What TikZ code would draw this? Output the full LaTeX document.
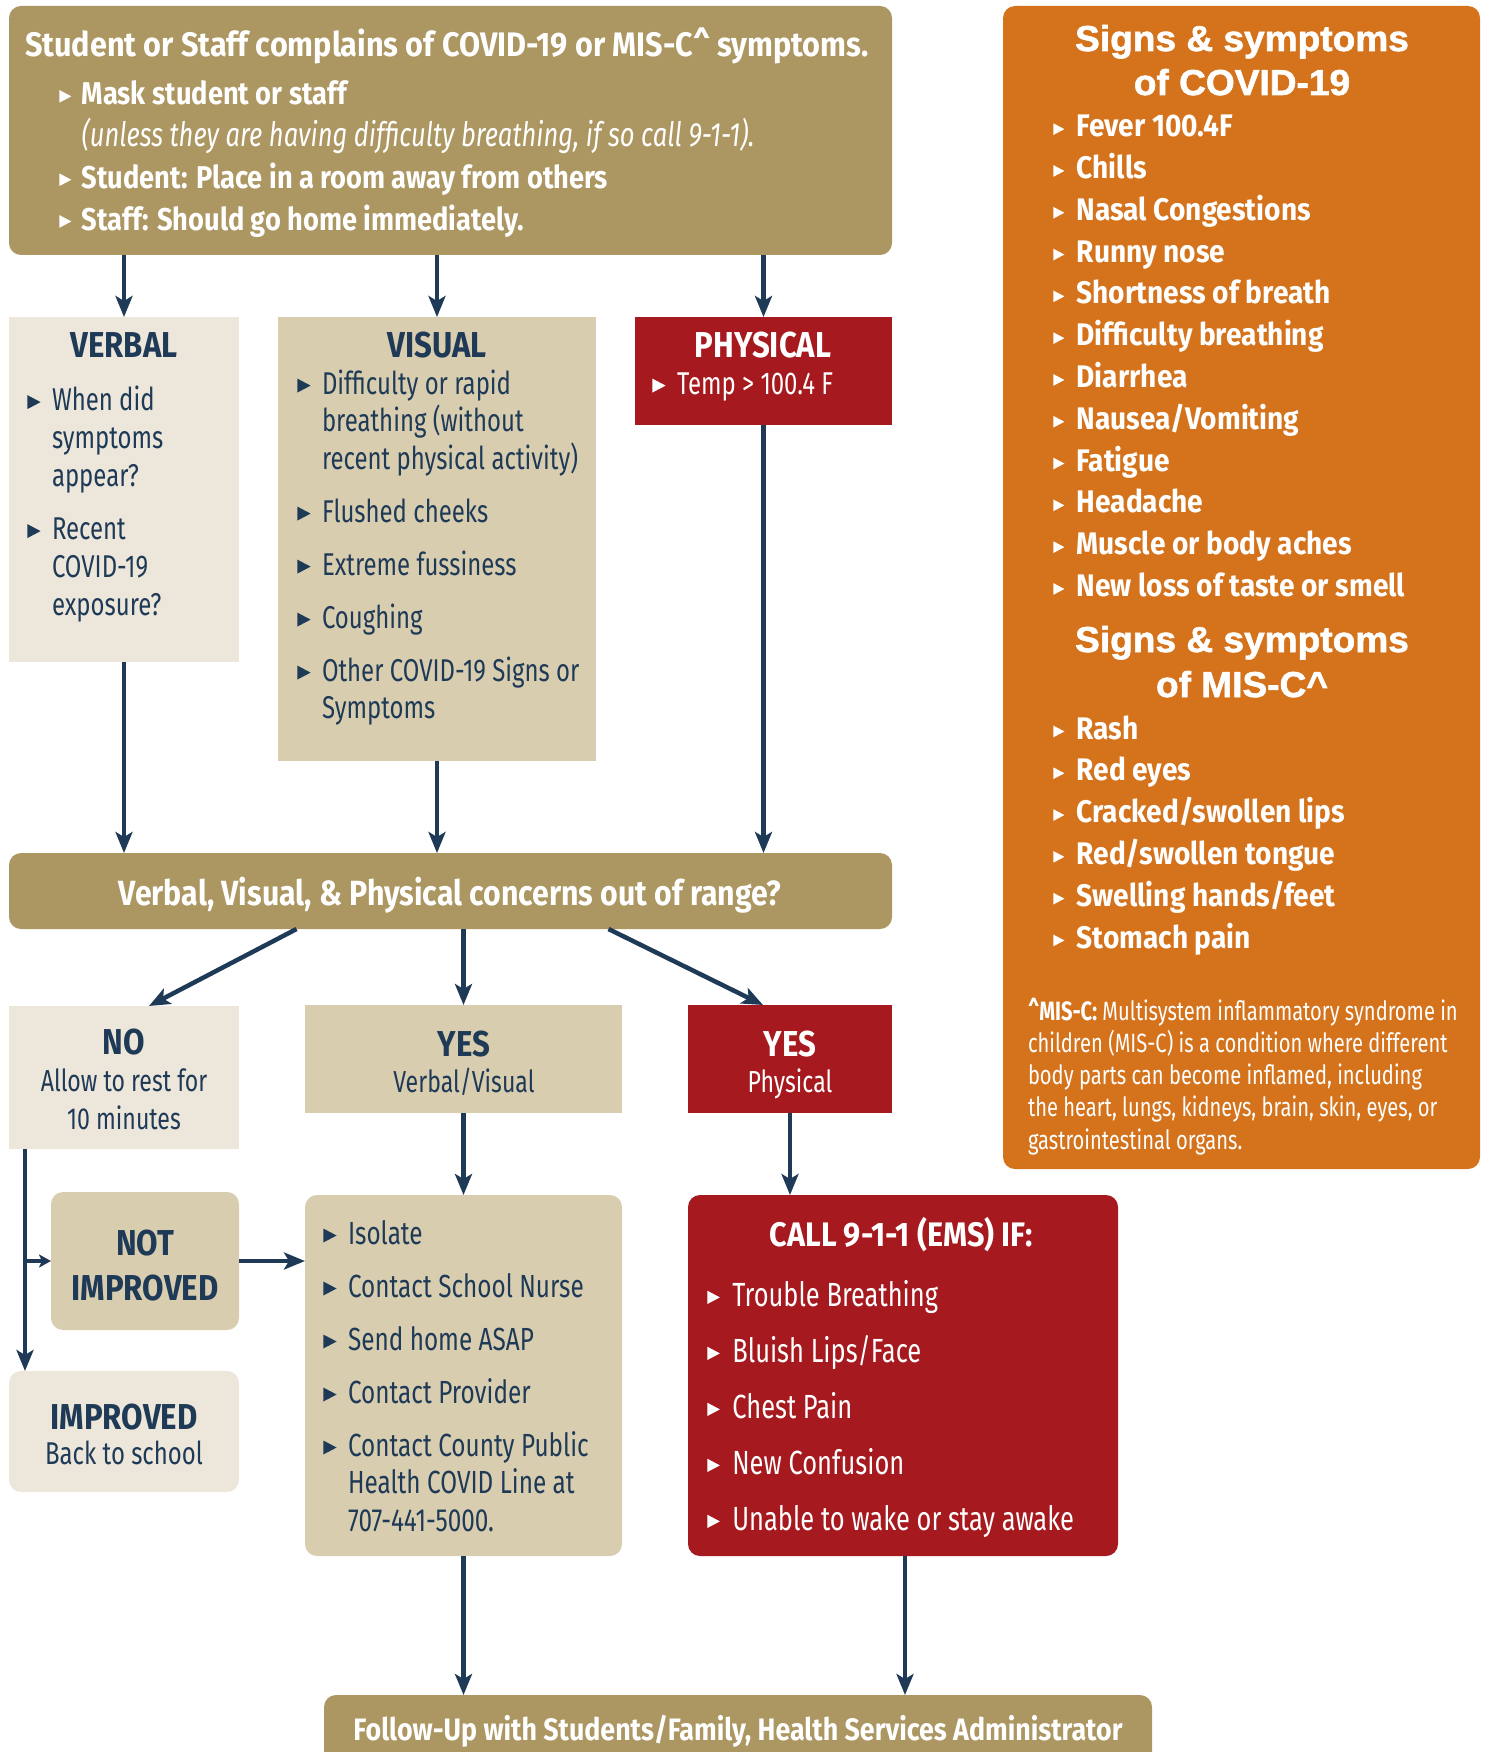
\documentclass[tikz,border=0pt]{standalone}
\usepackage{fontspec}
\setmainfont{Fira Sans}[FakeStretch=0.76]
\newfontfamily\hb{Fira Sans}[FakeStretch=0.865]
\newfontfamily\ob{Fira Sans}[FakeStretch=0.9]
\newfontfamily\headf{Liberation Sans}[FakeStretch=1.03,BoldFeatures={FakeBold=1.6}]
\usetikzlibrary{arrows.meta,calc}
\definecolor{gold}{RGB}{172,150,97}
\definecolor{orng}{RGB}{212,115,28}
\definecolor{lbeige}{RGB}{237,230,218}
\definecolor{tan}{RGB}{217,205,176}
\definecolor{cred}{RGB}{166,25,30}
\definecolor{navy}{RGB}{30,58,86}
\newcommand\sz[2]{\fontsize{#1}{#2}\selectfont}
\newcommand\fstrut{\rule{0pt}{30pt}}
% bullet: #1 triangle height, #2 box width, #3 raise
\newcommand\bul[3][14]{\makebox[#2][l]{\tikz[x=1pt,y=1pt,baseline=0pt]{\fill (0,#3) -- (0,#3+#1) -- ({0.95*#1},{#3+#1/2}) -- cycle;}}}
\newcommand\gap[1]{\hspace*{#1}}
\tikzset{
  box/.style={inner sep=0pt, outer sep=0pt, anchor=north west, draw=none},
  txt/.style={inner sep=0pt, outer sep=0pt, anchor=north west, align=left},
  ctxt/.style={inner sep=0pt, outer sep=0pt, anchor=north, align=center},
  btxt/.style={inner sep=0pt, outer sep=0pt, anchor=base},
  arr/.style={draw=navy, line width=4.5pt, -{Stealth[length=21pt,width=17pt,inset=5pt]}},
  arrs/.style={draw=navy, line width=4.5pt, -{Stealth[length=12pt,width=13pt,inset=3pt]}},
}
\begin{document}
\begin{tikzpicture}[x=1pt,y=-1pt]
\useasboundingbox (0,0) rectangle (1484,1752);
\clip (0,0) rectangle (1484,1752);
% ---------- boxes ----------
\node[box, fill=gold, rounded corners=12pt, minimum width=883pt, minimum height=249pt] (top) at (9,6) {};
\node[box, fill=orng, rounded corners=12pt, minimum width=477pt, minimum height=1163pt] (orange) at (1003,6) {};
\node[box, fill=lbeige, minimum width=230pt, minimum height=345pt] (verbal) at (9,317) {};
\node[box, fill=tan, minimum width=318pt, minimum height=444pt] (visual) at (278,317) {};
\node[box, fill=cred, minimum width=257pt, minimum height=108pt] (phys) at (635,317) {};
\node[box, fill=gold, rounded corners=12pt, minimum width=883pt, minimum height=76pt] (dec) at (9,853) {};
\node[box, fill=lbeige, minimum width=230pt, minimum height=143pt] (no) at (9,1006) {};
\node[box, fill=tan, minimum width=317pt, minimum height=108pt] (yesvv) at (305,1005) {};
\node[box, fill=cred, minimum width=204pt, minimum height=108pt] (yesp) at (688,1005) {};
\node[box, fill=tan, rounded corners=12pt, minimum width=188pt, minimum height=138pt] (notimp) at (51,1192) {};
\node[box, fill=lbeige, rounded corners=12pt, minimum width=230pt, minimum height=121pt] (imp) at (9,1371) {};
\node[box, fill=tan, rounded corners=12pt, minimum width=317pt, minimum height=361pt] (iso) at (305,1195) {};
\node[box, fill=cred, rounded corners=12pt, minimum width=430pt, minimum height=361pt] (call) at (688,1195) {};
\node[box, fill=gold, rounded corners=12pt, minimum width=828pt, minimum height=100pt] (fol) at (324,1695) {};
% ---------- texts ----------
\node[txt, text=white, font=\ob\sz{34}{44}\bfseries] (topT) at (25,27) {\fstrut Student or Staff complains of COVID-19 or MIS-C\textasciicircum{} symptoms.};
\node[txt, text=white, font=\hb\sz{31.5}{41.7}\bfseries] (topL) at (59.3,75) {\fstrut\bul[12.7]{22.4pt}{2.3}Mask student or staff\\
\gap{22.4pt}{\normalfont\sz{33.6}{41.7}\itshape (unless they are having difficulty breathing, if so call 9-1-1).}\\
\bul[12.7]{22.4pt}{2.3}Student: Place in a room away from others\\
\bul[12.7]{22.4pt}{2.3}Staff: Should go home immediately.};
% verbal
\node[btxt, text=navy, font=\hb\sz{36}{44}\bfseries] (verbalT) at (124,357.5) {VERBAL};
\node[txt, text=navy, font=\sz{31.5}{38}] (verbalL) at (27.3,380.5) {\fstrut\bul[14]{24.7pt}{1.4}When did\\
\gap{24.7pt}symptoms\\ \gap{24.7pt}appear?\\[15pt]
\bul[14]{24.7pt}{1.4}Recent\\ \gap{24.7pt}COVID-19\\ \gap{24.7pt}exposure?};
% visual
\node[btxt, text=navy, font=\hb\sz{36}{44}\bfseries] (visualT) at (437,357.5) {VISUAL};
\node[txt, text=navy, font=\sz{31.5}{37.5}] (visualL) at (297.3,364) {\fstrut\bul[14]{24.7pt}{1.4}Difficulty or rapid\\
\gap{24.7pt}breathing (without\\ \gap{24.7pt}recent physical activity)\\[15.5pt]
\bul[14]{24.7pt}{1.4}Flushed cheeks\\[15.5pt]
\bul[14]{24.7pt}{1.4}Extreme fussiness\\[15.5pt]
\bul[14]{24.7pt}{1.4}Coughing\\[15.5pt]
\bul[14]{24.7pt}{1.4}Other COVID-19 Signs or\\ \gap{24.7pt}Symptoms};
% physical
\node[btxt, text=white, font=\hb\sz{36}{44}\bfseries] (physT) at (763,357.5) {PHYSICAL};
\node[txt, text=white, font=\sz{31.5}{37.5}] (physL) at (652.3,364) {\fstrut\bul[14]{24.7pt}{1.4}Temp > 100.4 F};
% decision
\node[btxt, text=white, font=\hb\sz{35}{40}\bfseries] (decT) at (450,905) {Verbal, Visual, \& Physical concerns out of range?};
% no
\node[btxt, text=navy, font=\hb\sz{36}{44}\bfseries] (noT) at (124,1054) {NO};
\node[ctxt, text=navy, font=\sz{30.4}{38}] (noL) at (124,1061) {\fstrut Allow to rest for\\10 minutes};
% yes vv
\node[btxt, text=navy, font=\hb\sz{36}{44}\bfseries] (yesvvT) at (464,1056) {YES};
\node[btxt, text=navy, font=\sz{30.4}{38}] (yesvvL) at (464,1092) {Verbal/Visual};
% yes p
\node[btxt, text=white, font=\hb\sz{36}{44}\bfseries] (yespT) at (790,1056) {YES};
\node[btxt, text=white, font=\sz{30.4}{38}] (yespL) at (790,1092) {Physical};
% not improved
\node[ctxt, text=navy, font=\hb\sz{36}{45}\bfseries] (notimpT) at (145,1225) {\fstrut NOT\\IMPROVED};
% improved
\node[btxt, text=navy, font=\hb\sz{36}{44}\bfseries] (impT) at (124,1429) {IMPROVED};
\node[btxt, text=navy, font=\sz{31.5}{38}] (impL) at (124,1464) {Back to school};
% isolate list
\node[txt, text=navy, font=\sz{32}{37.5}] (isoL) at (323.3,1214) {\fstrut\bul[14]{24.7pt}{1.5}Isolate\\[15.5pt]
\bul[14]{24.7pt}{1.5}Contact School Nurse\\[15.5pt]
\bul[14]{24.7pt}{1.5}Send home ASAP\\[15.5pt]
\bul[14]{24.7pt}{1.5}Contact Provider\\[15.5pt]
\bul[14]{24.7pt}{1.5}Contact County Public\\ \gap{24.7pt}Health COVID Line at\\ \gap{24.7pt}707-441-5000.};
% call
\node[btxt, text=white, font=\ob\sz{34}{40}\bfseries] (callT) at (901,1246.7) {CALL 9-1-1 (EMS) IF:};
\node[txt, text=white, font=\sz{33.5}{56}] (callL) at (707.3,1276.7) {\fstrut\bul[13.3]{25pt}{2.7}Trouble Breathing\\
\bul[13.3]{25pt}{2.7}Bluish Lips/Face\\
\bul[13.3]{25pt}{2.7}Chest Pain\\
\bul[13.3]{25pt}{2.7}New Confusion\\
\bul[13.3]{25pt}{2.7}Unable to wake or stay awake};
% follow
\node[btxt, text=white, font=\hb\sz{31}{40}\bfseries] (folT) at (738,1740) {Follow-Up with Students/Family, Health Services Administrator};
% orange panel
\node[ctxt, text=white, font=\headf\sz{36}{44}\bfseries] (covH) at (1242,21) {\fstrut Signs \& symptoms\\of COVID-19};
\node[txt, text=white, font=\ob\sz{31.2}{41.8}\bfseries] (covL) at (1053.3,106.7) {\fstrut\bul[11.7]{23.4pt}{1.7}Fever 100.4F\\
\bul[11.7]{23.4pt}{1.7}Chills\\
\bul[11.7]{23.4pt}{1.7}Nasal Congestions\\
\bul[11.7]{23.4pt}{1.7}Runny nose\\
\bul[11.7]{23.4pt}{1.7}Shortness of breath\\
\bul[11.7]{23.4pt}{1.7}Difficulty breathing\\
\bul[11.7]{23.4pt}{1.7}Diarrhea\\
\bul[11.7]{23.4pt}{1.7}Nausea/Vomiting\\
\bul[11.7]{23.4pt}{1.7}Fatigue\\
\bul[11.7]{23.4pt}{1.7}Headache\\
\bul[11.7]{23.4pt}{1.7}Muscle or body aches\\
\bul[11.7]{23.4pt}{1.7}New loss of taste or smell};
\node[ctxt, text=white, font=\headf\sz{36}{45}\bfseries] (misH) at (1242,622) {\fstrut Signs \& symptoms\\of MIS-C\textasciicircum};
\node[txt, text=white, font=\ob\sz{31.2}{41.8}\bfseries] (misL) at (1053.3,709) {\fstrut\bul[11.7]{23.4pt}{1.7}Rash\\
\bul[11.7]{23.4pt}{1.7}Red eyes\\
\bul[11.7]{23.4pt}{1.7}Cracked/swollen lips\\
\bul[11.7]{23.4pt}{1.7}Red/swollen tongue\\
\bul[11.7]{23.4pt}{1.7}Swelling hands/feet\\
\bul[11.7]{23.4pt}{1.7}Stomach pain};
\node[txt, text=white, font=\sz{26.5}{32.3}] (foot) at (1028,990) {\fstrut\textbf{\textasciicircum MIS-C:} Multisystem inflammatory syndrome in\\
children (MIS-C) is a condition where different\\
body parts can become inflamed, including\\
the heart, lungs, kidneys, brain, skin, eyes, or\\
gastrointestinal organs.};
% ---------- connectors ----------
\draw[arr] (top.south -| verbal.north) -- (verbal.north);
\draw[arr] (top.south -| visual.north) -- (visual.north);
\draw[arr] (top.south -| phys.north) -- (phys.north);
\draw[arr] (verbal.south) -- (verbal.south |- dec.north);
\draw[arr] (visual.south) -- (visual.south |- dec.north);
\draw[arr] (phys.south) -- (phys.south |- dec.north);
\draw[arr] ([xshift=-154pt]dec.south) -- ([xshift=25pt]no.north);
\draw[arr] (dec.south -| yesvv.north) -- (yesvv.north);
\draw[arr] ([xshift=158pt]dec.south) -- ([xshift=-27pt]yesp.north);
\draw[arr] (yesvv.south) -- (yesvv.south |- iso.north);
\draw[arr] (yesp.south) -- (yesp.south |- call.north);
\coordinate (nol) at ([xshift=16pt]no.south west);
\draw[arr] (nol) -- (nol |- imp.north);
\draw[arrs] (nol |- notimp.west) -- (notimp.west);
\draw[arr] (notimp.east) -- (notimp.east -| iso.west);
\draw[arr] (iso.south) -- (iso.south |- fol.north);
\draw[arr] ([xshift=2pt]call.south) -- ([xshift=2pt]call.south |- fol.north);
\end{tikzpicture}
\end{document}
